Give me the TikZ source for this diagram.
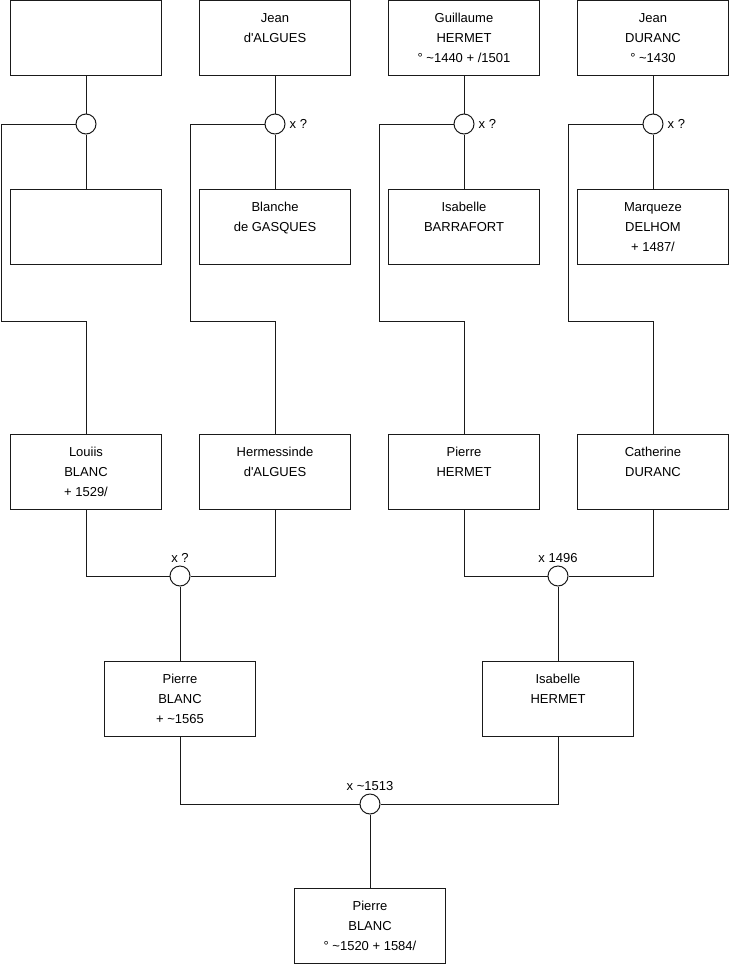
\documentclass[tikz,border=0pt]{standalone}
\usepackage{fontspec}
\setmainfont{Liberation Sans}
\usepackage{xcolor}
\definecolor{cLine}{HTML}{1A1A1A}
\usetikzlibrary{positioning}
\tikzset{
  node-person/.style={draw=cLine,line width=1pt,minimum width=151pt,
    minimum height=75pt,inner sep=0pt,align=center,
    font=\fontsize{13}{20}\selectfont},
  node-union/.style={draw=cLine,line width=1pt,circle,fill=white,
    minimum size=20pt,inner sep=0pt},
  node-date/.style={font=\fontsize{13}{16}\selectfont,inner sep=2pt},
  link/.style={draw=cLine,line width=1pt},
}

\begin{document}
\begin{tikzpicture}[x=1pt,y=-1pt]
  \useasboundingbox (0,0) rectangle (740,975);

  % arriere-grands-parents
  \node[node-person] (a1) at (86,38) {};
  \node[node-person] (a2) at (275,38) {Jean\\d\textquotesingle ALGUES\\~};
  \node[node-person] (a3) at (464,38) {Guillaume\\HERMET\\° \textasciitilde1440 + /1501};
  \node[node-person] (a4) at (653,38) {Jean\\DURANC\\° \textasciitilde1430};

  \node[node-person] (b1) at (86,227) {};
  \node[node-person] (b2) at (275,227) {Blanche\\de GASQUES\\~};
  \node[node-person] (b3) at (464,227) {Isabelle\\BARRAFORT\\~};
  \node[node-person] (b4) at (653,227) {Marqueze\\DELHOM\\+ 1487/};

  \node[node-union] (u1) at (86,124) {};
  \node[node-union] (u2) at (275,124) {};
  \node[node-union] (u3) at (464,124) {};
  \node[node-union] (u4) at (653,124) {};
  \node[node-date,right=2pt of u2] (l2) {x ?};
  \node[node-date,right=2pt of u3] (l3) {x ?};
  \node[node-date,right=2pt of u4] (l4) {x ?};

  \coordinate (k1) at (1,321);
  \coordinate (k2) at (190,321);
  \coordinate (k3) at (379,321);
  \coordinate (k4) at (568,321);

  % grands-parents
  \node[node-person] (c1) at (86,472) {Louiis\\BLANC\\+ 1529/};
  \node[node-person] (c2) at (275,472) {Hermessinde\\d\textquotesingle ALGUES\\~};
  \node[node-person] (c3) at (464,472) {Pierre\\HERMET\\~};
  \node[node-person] (c4) at (653,472) {Catherine\\DURANC\\~};

  \node[node-union] (m1) at (180,576) {};
  \node[node-union] (m2) at (558,576) {};
  \node[node-date,above=1pt of m1] (lm1) {x ?};
  \node[node-date,above=1pt of m2] (lm2) {x 1496};

  % parents
  \node[node-person] (d1) at (180,699) {Pierre\\BLANC\\+ \textasciitilde1565};
  \node[node-person] (d2) at (558,699) {Isabelle\\HERMET\\~};

  \node[node-union] (m3) at (370,804) {};
  \node[node-date,above=1pt of m3] (lm3) {x \textasciitilde1513};

  \node[node-person] (e) at (370,925.5) {Pierre\\BLANC\\° \textasciitilde1520 + 1584/};

  % liens
  \draw[link] (a1) -- (u1) -- (b1);
  \draw[link] (a2) -- (u2) -- (b2);
  \draw[link] (a3) -- (u3) -- (b3);
  \draw[link] (a4) -- (u4) -- (b4);
  \draw[link] (u1.west) -| (k1) -| (c1.north);
  \draw[link] (u2.west) -| (k2) -| (c2.north);
  \draw[link] (u3.west) -| (k3) -| (c3.north);
  \draw[link] (u4.west) -| (k4) -| (c4.north);

  \draw[link] (c1.south) |- (m1.west);
  \draw[link] (c2.south) |- (m1.east);
  \draw[link] (c3.south) |- (m2.west);
  \draw[link] (c4.south) |- (m2.east);
  \draw[link] (m1) -- (d1);
  \draw[link] (m2) -- (d2);

  \draw[link] (d1.south) |- (m3.west);
  \draw[link] (d2.south) |- (m3.east);
  \draw[link] (m3) -- (e);
\end{tikzpicture}
\end{document}
